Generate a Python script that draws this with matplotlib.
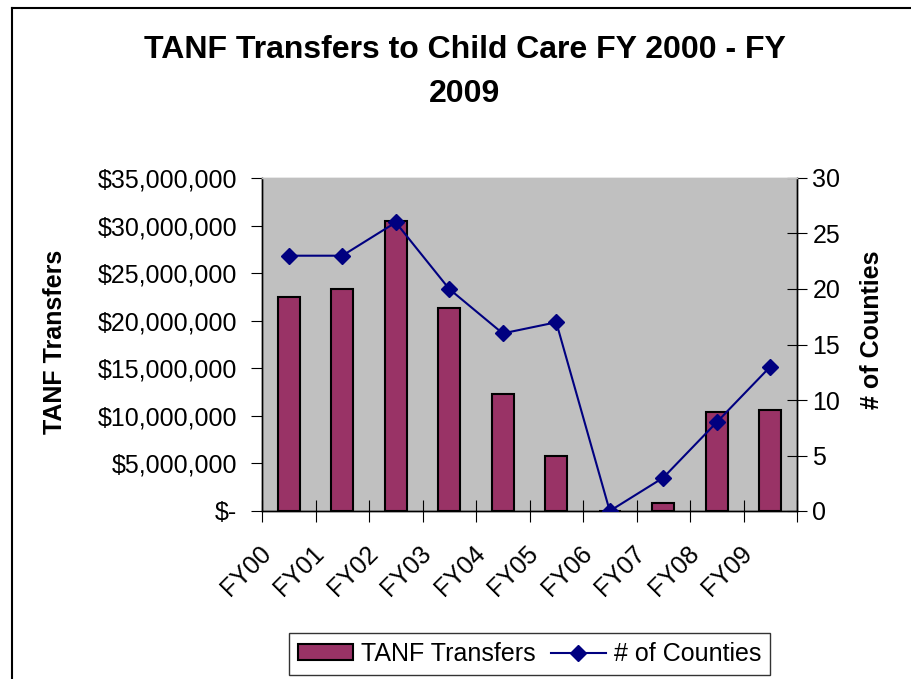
import matplotlib.pyplot as plt
from matplotlib.ticker import FuncFormatter
from matplotlib.lines import Line2D

plt.rcParams['font.family'] = ['Liberation Sans', 'DejaVu Sans']

years = ["FY00", "FY01", "FY02", "FY03", "FY04", "FY05", "FY06", "FY07", "FY08", "FY09"]
transfers = [22540000, 23380000, 30530000, 21320000, 12280000, 5830000, 0, 800000, 10400000, 10640000]
counties = [23, 23, 26, 20, 16, 17, 0, 3, 8, 13]

W, H = 911, 679
fig = plt.figure(figsize=(W / 100, H / 100), dpi=100)

# thin frame along the top and left edge of the chart area
fig.add_artist(Line2D([12 / W, 12 / W], [0, 1 - 8 / H], color="black", lw=1.5))
fig.add_artist(Line2D([12 / W, 1], [1 - 8 / H, 1 - 8 / H], color="black", lw=1.5))

ax = fig.add_axes([262 / W, (H - 511) / H, (797 - 262) / W, (511 - 178) / H])
ax.set_facecolor("#C0C0C0")
x = list(range(len(years)))
ax.bar(x, transfers, width=0.42, color="#993366", edgecolor="black", linewidth=1.5,
       label="TANF Transfers", zorder=2)
ax.set_xlim(-0.5, len(years) - 0.5)
ax.set_ylim(0, 35000000)
ax.set_yticks(range(0, 35000001, 5000000))


def money(v, pos):
    if v == 0:
        return "$-"
    return "${:,.0f}".format(v)


ax.yaxis.set_major_formatter(FuncFormatter(money))
ax.tick_params(axis="y", labelsize=18, length=8, direction="out", pad=10)

# category ticks sit between the bars
ax.set_xticks([i - 0.5 for i in range(len(years) + 1)])
ax.set_xticklabels([])
ax.tick_params(axis="x", length=16, direction="inout")
for i, name in enumerate(years):
    ax.text(i - 0.56, -0.09, name, transform=ax.get_xaxis_transform(), rotation=45,
            ha="right", va="top", rotation_mode="anchor", fontsize=18)

for s in ax.spines.values():
    s.set_linewidth(1)
ax.spines["top"].set_color("#C0C0C0")

ax2 = ax.twinx()
ax2.plot(x, counties, color="#000080", marker="D", markersize=8, linewidth=1.5,
         label="# of Counties", zorder=3)
ax2.set_ylim(0, 30)
ax2.set_yticks(range(0, 31, 5))
ax2.tick_params(axis="y", labelsize=18, length=14, direction="inout", pad=4)
ax2.spines["top"].set_color("#C0C0C0")
for s in ax2.spines.values():
    s.set_linewidth(1)

fig.text(55 / W, 1 - 342 / H, "TANF Transfers", rotation=90, ha="center", va="center",
         fontsize=18, fontweight="bold")
fig.text(872 / W, 1 - 330 / H, "# of Counties", rotation=90, ha="center", va="center",
         fontsize=18, fontweight="bold")

fig.text(465 / W, 1 - 50 / H, "TANF Transfers to Child Care FY 2000 - FY", ha="center",
         va="center", fontsize=23, fontweight="bold")
fig.text(465 / W, 1 - 94 / H, "2009", ha="center", va="center", fontsize=23,
         fontweight="bold")

h1, l1 = ax.get_legend_handles_labels()
h2, l2 = ax2.get_legend_handles_labels()
leg = fig.legend(h1 + h2, l1 + l2, loc="center", bbox_to_anchor=(529.5 / W, 1 - 654 / H),
                 ncol=2, fontsize=18, frameon=True, fancybox=False, edgecolor="black",
                 handlelength=2.2, handleheight=0.6, handletextpad=0.32, columnspacing=0.6,
                 borderpad=0.35, borderaxespad=0)
leg.get_frame().set_linewidth(1)

fig.savefig("out.png", dpi=100)
